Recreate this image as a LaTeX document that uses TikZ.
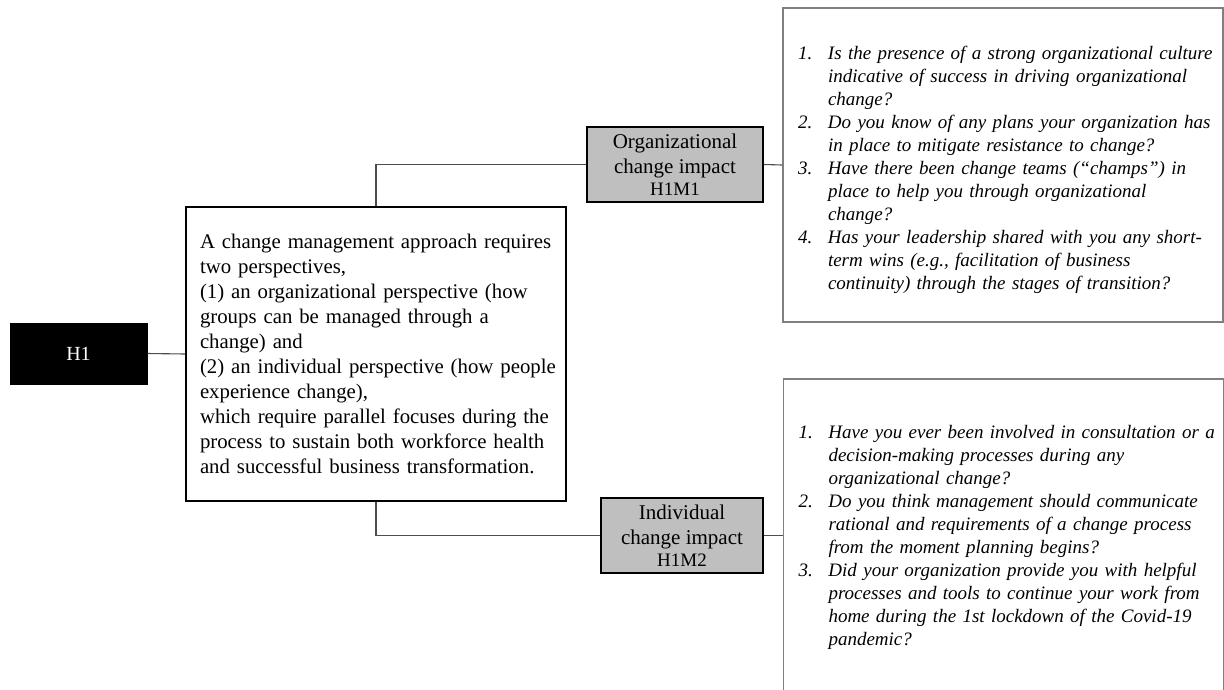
\documentclass[tikz,border=0pt]{standalone}
\usepackage{fontspec}
\setmainfont{Liberation Serif}
\begin{document}
\begin{tikzpicture}[x=1pt,y=-1pt,
  connector/.style={draw=black!70, line width=1.1pt},
  hbox/.style={draw=black, fill=black, text=white, line width=1pt,
    minimum width=137pt, minimum height=61pt, inner sep=0pt,
    font=\fontsize{20}{24}\selectfont},
  mainbox/.style={draw=black, line width=1.6pt, minimum width=380pt,
    minimum height=294pt, text width=352pt, inner xsep=14pt, inner ysep=0pt,
    align=left, font=\fontsize{20.8}{25}\selectfont},
  impbox/.style={draw=black, fill=black!25, line width=2pt,
    minimum height=75pt, inner sep=0pt, align=center,
    font=\fontsize{21}{25}\selectfont},
  qbox/.style={draw=black!50, line width=1.5pt, minimum width=440pt,
    text width=410pt, inner xsep=15pt, inner ysep=0pt,
    font=\fontsize{19}{23}\selectfont\itshape},
]
\useasboundingbox (0,0) rectangle (1224,689);
\clip (0,0) rectangle (1224,689);

% hypothesis and its statement
\node[hbox] (h1) at (78.5,353.5) {H1};
\node[mainbox] (main) at (376,354) {A change management approach requires\\
two perspectives,\\
(1) an organizational perspective (how\\
groups can be managed through a\\
change) and\\
\mbox{(2) an individual perspective (how people}\\
experience change),\\
which require parallel focuses during the\\
process to sustain both workforce health\\
and successful business transformation.};

% the two impact branches
\node[impbox, minimum width=176pt] (org) at (675,164.5)
  {Organizational\\change impact\\[-3pt]{\fontsize{19}{20}\selectfont H1M1}};
\node[impbox, minimum width=162pt] (ind) at (682,535.5)
  {Individual\\change impact\\[-3pt]{\fontsize{19}{20}\selectfont H1M2}};

% interview questions
\node[qbox, minimum height=314pt] (q1) at (1003,165) {\vspace*{9pt}\par\noindent
\begin{tabular}{@{}p{30pt}@{}l@{}}
1. & Is the presence of a strong organizational culture\\
   & indicative of success in driving organizational\\
   & change?\\
2. & Do you know of any plans your organization has\\
   & in place to mitigate resistance to change?\\
3. & Have there been change teams (“champs”) in\\
   & place to help you through organizational\\
   & change?\\
4. & Has your leadership shared with you any short-\\
   & term wins (e.g., facilitation of business\\
   & continuity) through the stages of transition?
\end{tabular}};

\node[qbox, minimum height=317pt] (q2) at (1003.5,537.5) {\noindent
\begin{tabular}{@{}p{30pt}@{}l@{}}
1. & Have you ever been involved in consultation or a\\
   & decision-making processes during any\\
   & organizational change?\\
2. & Do you think management should communicate\\
   & rational and requirements of a change process\\
   & from the moment planning begins?\\
3. & Did your organization provide you with helpful\\
   & processes and tools to continue your work from\\
   & home during the 1st lockdown of the Covid-19\\
   & pandemic?
\end{tabular}};

% connectors
\draw[connector] (h1.east) -- (main.west);
\draw[connector] (main.north) |- (org.west);
\draw[connector] (main.south) |- (ind.west);
\draw[connector] (org.east) -- (q1.west);
\draw[connector] (ind.east) -- (ind.east -| q2.west);
\end{tikzpicture}
\end{document}
